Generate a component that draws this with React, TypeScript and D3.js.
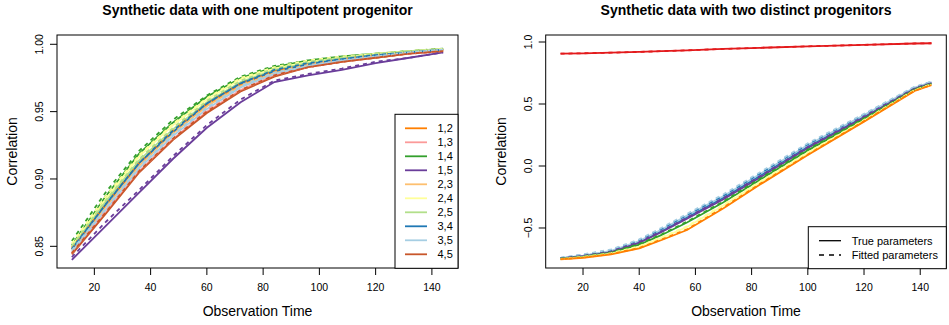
import React from 'react'
import * as d3 from 'd3'

// observation times
const timesA = [12, 24, 36, 48, 60, 72, 84, 96, 108, 120, 132, 144]
const timesB = [12, 20, 30, 40, 48, 57, 70, 83, 100, 120, 138, 144]

// left panel: one multipotent progenitor
const pairsA = ['1,2', '1,3', '1,4', '1,5', '2,3', '2,4', '2,5', '3,4', '3,5', '4,5']
const colorsA = ['#FF7F00', '#FB9A99', '#33A02C', '#6A3D9A', '#FDBF6F', '#FFFF99', '#B2DF8A', '#1F78B4', '#A6CEE3', '#C8562A']

const trueA = [
  [0.848, 0.880, 0.912, 0.935, 0.955, 0.970, 0.980, 0.985, 0.989, 0.992, 0.994, 0.996],
  [0.845, 0.875, 0.906, 0.930, 0.950, 0.966, 0.977, 0.983, 0.987, 0.991, 0.993, 0.995],
  [0.851, 0.887, 0.919, 0.942, 0.961, 0.975, 0.983, 0.988, 0.991, 0.993, 0.995, 0.9965],
  [0.840, 0.865, 0.890, 0.915, 0.938, 0.957, 0.972, 0.977, 0.981, 0.986, 0.990, 0.994],
  [0.847, 0.879, 0.910, 0.934, 0.954, 0.969, 0.979, 0.985, 0.989, 0.992, 0.994, 0.996],
  [0.850, 0.885, 0.917, 0.940, 0.959, 0.974, 0.982, 0.987, 0.990, 0.993, 0.995, 0.9965],
  [0.849, 0.883, 0.914, 0.937, 0.957, 0.972, 0.981, 0.986, 0.990, 0.992, 0.995, 0.996],
  [0.848, 0.881, 0.912, 0.935, 0.956, 0.971, 0.980, 0.985, 0.989, 0.992, 0.994, 0.996],
  [0.846, 0.877, 0.908, 0.932, 0.952, 0.968, 0.978, 0.984, 0.988, 0.991, 0.994, 0.996],
  [0.844, 0.874, 0.905, 0.929, 0.949, 0.965, 0.976, 0.983, 0.987, 0.990, 0.993, 0.995],
]

const fittedA = [
  [0.849, 0.881, 0.912, 0.936, 0.956, 0.971, 0.980, 0.985, 0.989, 0.992, 0.994, 0.996],
  [0.845, 0.876, 0.906, 0.930, 0.951, 0.966, 0.977, 0.983, 0.988, 0.991, 0.993, 0.995],
  [0.854, 0.890, 0.921, 0.944, 0.962, 0.976, 0.984, 0.988, 0.991, 0.993, 0.995, 0.9968],
  [0.842, 0.868, 0.892, 0.917, 0.940, 0.959, 0.973, 0.978, 0.982, 0.987, 0.990, 0.994],
  [0.848, 0.880, 0.910, 0.934, 0.955, 0.970, 0.979, 0.985, 0.989, 0.992, 0.994, 0.996],
  [0.852, 0.887, 0.918, 0.941, 0.960, 0.975, 0.983, 0.988, 0.991, 0.993, 0.995, 0.9967],
  [0.850, 0.884, 0.915, 0.938, 0.958, 0.973, 0.982, 0.987, 0.990, 0.993, 0.995, 0.996],
  [0.848, 0.881, 0.912, 0.936, 0.956, 0.971, 0.981, 0.986, 0.989, 0.992, 0.994, 0.996],
  [0.847, 0.878, 0.909, 0.933, 0.953, 0.969, 0.979, 0.984, 0.988, 0.991, 0.994, 0.996],
  [0.845, 0.875, 0.906, 0.930, 0.950, 0.966, 0.977, 0.983, 0.987, 0.990, 0.993, 0.995],
]

// right panel: two distinct progenitors
const colorsB = ['#E31A1C', '#1F78B4', '#A6CEE3', '#6A3D9A', '#33A02C', '#FFFF99', '#FF7F00']

const trueB = [
  [0.907, 0.909, 0.914, 0.920, 0.926, 0.932, 0.944, 0.953, 0.965, 0.977, 0.988, 0.990],
  [-0.745, -0.725, -0.690, -0.612, -0.522, -0.412, -0.255, -0.078, 0.158, 0.400, 0.627, 0.672],
  [-0.744, -0.722, -0.685, -0.605, -0.512, -0.400, -0.242, -0.064, 0.170, 0.410, 0.632, 0.676],
  [-0.746, -0.728, -0.695, -0.620, -0.532, -0.425, -0.268, -0.092, 0.145, 0.390, 0.622, 0.668],
  [-0.748, -0.731, -0.700, -0.635, -0.556, -0.456, -0.292, -0.110, 0.126, 0.378, 0.616, 0.663],
  [-0.750, -0.736, -0.707, -0.652, -0.580, -0.492, -0.318, -0.132, 0.105, 0.367, 0.611, 0.657],
  [-0.752, -0.740, -0.712, -0.665, -0.597, -0.516, -0.340, -0.150, 0.088, 0.358, 0.606, 0.652],
]

const fittedB = [
  [0.906, 0.909, 0.914, 0.920, 0.926, 0.933, 0.944, 0.953, 0.965, 0.977, 0.988, 0.990],
  [-0.742, -0.716, -0.678, -0.598, -0.506, -0.395, -0.238, -0.060, 0.176, 0.415, 0.636, 0.678],
  [-0.741, -0.713, -0.673, -0.592, -0.498, -0.386, -0.228, -0.050, 0.184, 0.420, 0.640, 0.680],
  [-0.745, -0.724, -0.690, -0.613, -0.524, -0.416, -0.258, -0.082, 0.154, 0.398, 0.626, 0.670],
  [-0.747, -0.728, -0.696, -0.630, -0.550, -0.449, -0.285, -0.102, 0.133, 0.384, 0.619, 0.665],
  [-0.749, -0.733, -0.703, -0.647, -0.574, -0.486, -0.311, -0.125, 0.111, 0.371, 0.613, 0.659],
  [-0.751, -0.738, -0.709, -0.661, -0.592, -0.511, -0.334, -0.144, 0.093, 0.362, 0.608, 0.654],
]

const xTicks = [20, 40, 60, 80, 100, 120, 140]
const yTicksA = [0.85, 0.9, 0.95, 1.0]
const yTicksB = [-0.5, 0.0, 0.5, 1.0]
const legendB = ['True parameters', 'Fitted parameters']

const FONT = '"Liberation Sans", Arial, Helvetica, sans-serif'
const TOP = 35
const BOTTOM = 268

type PanelProps = {
  left: number
  right: number
  yDomain: [number, number]
  yTicks: number[]
  yFmt: (v: number) => string
  title: string
  times: number[]
  colors: string[]
  trueVals: number[][]
  fittedVals: number[][]
  children?: React.ReactNode
}

const Panel = ({ left, right, yDomain, yTicks, yFmt, title, times, colors, trueVals, fittedVals, children }: PanelProps) => {
  const x = d3.scaleLinear().domain([12 - 0.04 * 132, 144 + 0.04 * 132]).range([left, right])
  const y = d3.scaleLinear().domain(yDomain).range([BOTTOM, TOP])
  const line = d3.line<number>().x((_, i) => x(times[i])).y(d => y(d))
  const cx = (left + right) / 2

  return (
    <g fontFamily={FONT}>
      <text x={cx} y={15} textAnchor="middle" fontWeight="bold" fontSize={14}>{title}</text>
      <g fill="none" strokeWidth={1.8}>
        {trueVals.map((s, i) => (
          <path key={'t' + i} d={line(s) || ''} stroke={colors[i]} />
        ))}
        {fittedVals.map((s, i) => (
          <path key={'f' + i} d={line(s) || ''} stroke={colors[i]} strokeDasharray="4,4" />
        ))}
      </g>
      <rect x={left} y={TOP} width={right - left} height={BOTTOM - TOP} fill="none" stroke="#000" strokeWidth={1} />
      {xTicks.map(t => (
        <g key={t}>
          <line x1={x(t)} x2={x(t)} y1={BOTTOM} y2={BOTTOM + 7} stroke="#000" />
          <text x={x(t)} y={291} textAnchor="middle" fontSize={10.5}>{t}</text>
        </g>
      ))}
      {yTicks.map(t => (
        <g key={t}>
          <line x1={left - 7} x2={left} y1={y(t)} y2={y(t)} stroke="#000" />
          <text transform={`translate(${left - 14},${y(t)}) rotate(-90)`} textAnchor="middle" fontSize={10.5}>{yFmt(t)}</text>
        </g>
      ))}
      <text x={cx} y={316} textAnchor="middle" fontSize={14}>Observation Time</text>
      <text transform={`translate(${left - 40},${(TOP + BOTTOM) / 2}) rotate(-90)`} textAnchor="middle" fontSize={14}>Correlation</text>
      {children}
    </g>
  )
}

const App = () => {
  return (
    <svg width={949} height={325} style={{ position: 'absolute', left: 0, top: 0, background: '#fff' }}>
      <Panel
        left={57} right={458} yDomain={[0.8339, 1.0069]} yTicks={yTicksA} yFmt={d3.format('.2f')}
        title="Synthetic data with one multipotent progenitor"
        times={timesA} colors={colorsA} trueVals={trueA} fittedVals={fittedA}
      >
        <g fontFamily={FONT}>
          <rect x={395} y={114.3} width={63} height={154} fill="#fff" stroke="#000" />
          {pairsA.map((p, i) => (
            <g key={p}>
              <line x1={405} x2={427} y1={128.3 + 14 * i} y2={128.3 + 14 * i} stroke={colorsA[i]} strokeWidth={1.8} />
              <text x={437.5} y={132.3 + 14 * i} fontSize={11}>{p}</text>
            </g>
          ))}
        </g>
      </Panel>
      <Panel
        left={545.7} right={946.3} yDomain={[-0.8226, 1.0565]} yTicks={yTicksB} yFmt={d3.format('.1f')}
        title="Synthetic data with two distinct progenitors"
        times={timesB} colors={colorsB} trueVals={trueB} fittedVals={fittedB}
      >
        <g fontFamily={FONT}>
          <rect x={808.3} y={226.7} width={138} height={42} fill="#fff" stroke="#000" />
          {legendB.map((l, i) => (
            <g key={l}>
              <line x1={819} x2={841} y1={240.7 + 14.3 * i} y2={240.7 + 14.3 * i} stroke="#000" strokeWidth={1.3} strokeDasharray={i === 1 ? '5,5' : undefined} />
              <text x={851.7} y={244.7 + 14.3 * i} fontSize={11}>{l}</text>
            </g>
          ))}
        </g>
      </Panel>
    </svg>
  )
}

export default App
